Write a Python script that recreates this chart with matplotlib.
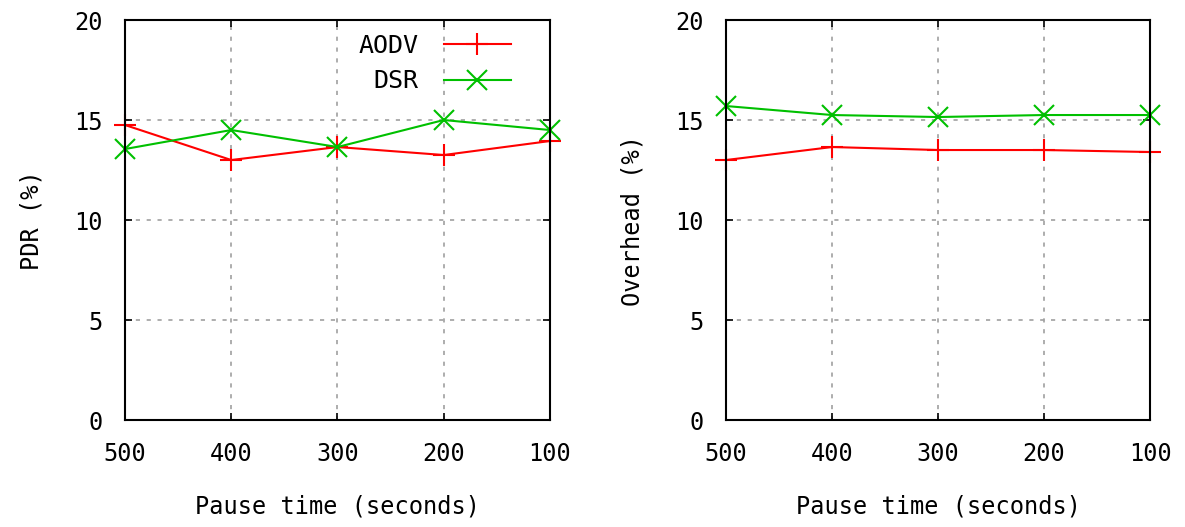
import matplotlib
matplotlib.use('Agg')
import matplotlib.pyplot as plt

plt.rcParams['font.family'] = ['DejaVu Sans Mono']

pause = [500, 400, 300, 200, 100]
# PDR (%)
pdr_aodv = [14.75, 13.0, 13.65, 13.25, 13.95]
pdr_dsr = [13.55, 14.5, 13.65, 15.0, 14.5]
# Overhead (%)
ovh_aodv = [13.0, 13.65, 13.5, 13.5, 13.4]
ovh_dsr = [15.7, 15.25, 15.15, 15.25, 15.25]

fig = plt.figure(figsize=(11.85, 5.27), dpi=100)
ax1 = fig.add_axes([0.1055, 0.203, 0.3586, 0.759])
ax2 = fig.add_axes([0.6127, 0.203, 0.3578, 0.759])

def style(ax, ylabel):
    ax.set_xlim(500, 100)
    ax.set_ylim(0, 20)
    ax.set_xticks(pause)
    ax.set_yticks([0, 5, 10, 15, 20])
    ax.grid(True, color='#a0a0a0', linestyle=(0, (2.5, 4)), linewidth=1.2)
    ax.tick_params(direction='in', top=True, right=True, length=5, width=1.2,
                   labelsize=17)
    ax.tick_params(axis='x', pad=16)
    ax.tick_params(axis='y', pad=16)
    for s in ax.spines.values():
        s.set_linewidth(1.5)
    ax.set_xlabel('Pause time (seconds)', fontsize=17, labelpad=20)
    ax.set_ylabel(ylabel, fontsize=17, labelpad=22)

ax1.plot(pause, pdr_aodv, color='#ff0000', marker='+', markersize=16,
         markeredgewidth=1.5, linewidth=1.5, label='AODV', clip_on=False)
ax1.plot(pause, pdr_dsr, color='#00c000', marker='x', markersize=14,
         markeredgewidth=1.5, linewidth=1.5, label='DSR', clip_on=False)
style(ax1, 'PDR (%)')
ax1.legend(loc='upper right', frameon=False, markerfirst=False, fontsize=18,
           handlelength=2.7, handletextpad=1.0, borderaxespad=0.0,
           labelspacing=0.45, bbox_to_anchor=(0.932, 0.99))

ax2.plot(pause, ovh_aodv, color='#ff0000', marker='+', markersize=16,
         markeredgewidth=1.5, linewidth=1.5, clip_on=False)
ax2.plot(pause, ovh_dsr, color='#00c000', marker='x', markersize=14,
         markeredgewidth=1.5, linewidth=1.5, clip_on=False)
style(ax2, 'Overhead (%)')

fig.savefig('out.png', dpi=100)
